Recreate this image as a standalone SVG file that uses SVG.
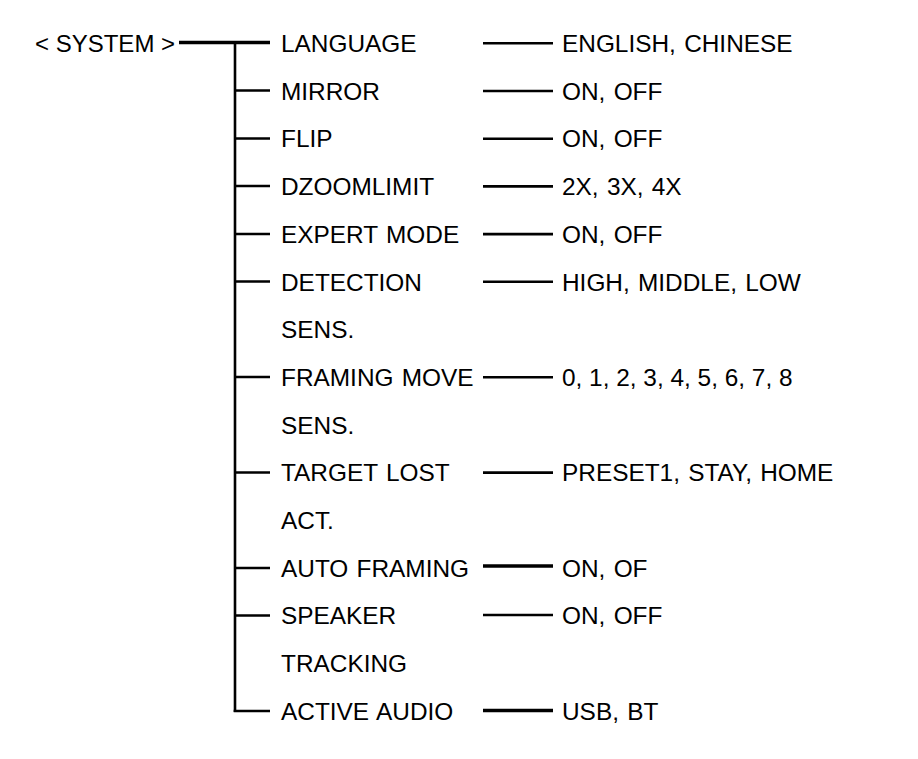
<svg xmlns="http://www.w3.org/2000/svg" width="918" height="759" viewBox="0 0 918 759">
<style>
text{font-family:"Liberation Sans",Arial,sans-serif;font-size:24.4px;word-spacing:1.5px;fill:#000}
text.n{word-spacing:0}
.c line{stroke:#000;stroke-width:2.6;fill:none}
.c .t{stroke-width:3.6}
</style>
<rect width="918" height="759" fill="#fff"/>
<g class="c" id="connectors">
<line class="t" x1="179" y1="42.5" x2="270" y2="42.5"/>
<line x1="235" y1="42" x2="235" y2="712"/>
<line x1="234" y1="90.5" x2="270" y2="90.5"/>
<line x1="234" y1="138.5" x2="270" y2="138.5"/>
<line x1="234" y1="186" x2="270" y2="186"/>
<line x1="234" y1="234" x2="270" y2="234"/>
<line x1="234" y1="281.5" x2="270" y2="281.5"/>
<line x1="234" y1="377" x2="270" y2="377"/>
<line x1="234" y1="472.5" x2="270" y2="472.5"/>
<line x1="234" y1="568" x2="270" y2="568"/>
<line x1="234" y1="615.5" x2="270" y2="615.5"/>
<line x1="233.7" y1="711" x2="270" y2="711"/>
<line x1="483" y1="43.3" x2="553" y2="43.3"/>
<line x1="483" y1="91" x2="553" y2="91"/>
<line x1="483" y1="138.7" x2="553" y2="138.7"/>
<line x1="483" y1="186.4" x2="553" y2="186.4"/>
<line x1="483" y1="234.1" x2="553" y2="234.1"/>
<line x1="483" y1="281.8" x2="553" y2="281.8"/>
<line x1="483" y1="377.2" x2="553" y2="377.2"/>
<line x1="483" y1="472.6" x2="553" y2="472.6"/>
<line class="t" x1="483" y1="566" x2="553" y2="566"/>
<line x1="483" y1="615" x2="553" y2="615"/>
<line class="t" x1="483" y1="710.5" x2="553" y2="710.5"/>
</g>
<g id="root"><text class="n" x="35" y="52" style="font-size:24px">&lt; SYSTEM &gt;</text></g>
<g id="language"><text x="281" y="52">LANGUAGE</text><text x="562" y="52">ENGLISH, CHINESE</text></g>
<g id="mirror"><text x="281" y="99.7">MIRROR</text><text x="562" y="99.7">ON, OFF</text></g>
<g id="flip"><text x="281" y="147.4">FLIP</text><text x="562" y="147.4">ON, OFF</text></g>
<g id="dzoomlimit"><text x="281" y="195.1">DZOOMLIMIT</text><text x="562" y="195.1">2X, 3X, 4X</text></g>
<g id="expert"><text x="281" y="242.8">EXPERT MODE</text><text x="562" y="242.8">ON, OFF</text></g>
<g id="detection"><text x="281" y="290.5">DETECTION</text><text x="281" y="338.2">SENS.</text><text x="562" y="290.5">HIGH, MIDDLE, LOW</text></g>
<g id="framing"><text x="281" y="385.9">FRAMING MOVE</text><text x="281" y="433.6">SENS.</text><text class="n" x="562" y="385.9">0, 1, 2, 3, 4, 5, 6, 7, 8</text></g>
<g id="target"><text x="281" y="481.3">TARGET LOST</text><text x="281" y="529">ACT.</text><text x="562" y="481.3">PRESET1, STAY, HOME</text></g>
<g id="autoframing"><text x="281" y="576.7">AUTO FRAMING</text><text x="562" y="576.7">ON, OF</text></g>
<g id="speaker"><text x="281" y="624.4">SPEAKER</text><text x="281" y="672.1">TRACKING</text><text x="562" y="624.4">ON, OFF</text></g>
<g id="activeaudio"><text x="281" y="719.8">ACTIVE AUDIO</text><text x="562" y="719.8">USB, BT</text></g>
</svg>
